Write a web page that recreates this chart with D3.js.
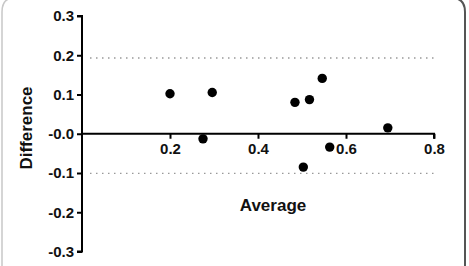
<!DOCTYPE html>
<html><head><meta charset="utf-8">
<script src="https://cdn.jsdelivr.net/npm/d3@7"></script>
<style>html,body{margin:0;padding:0;background:#fff;}svg{display:block;}</style>
</head><body>
<svg id="c" width="469" height="266"></svg>
<script>
const avg = [0.200, 0.296, 0.275, 0.484, 0.517, 0.503, 0.546, 0.563, 0.695];
const diff = [0.102, 0.105, -0.013, 0.080, 0.087, -0.085, 0.141, -0.034, 0.015];
const limits = [0.193, -0.101];
const xTicks = [0.2, 0.4, 0.6, 0.8];
const yTicks = [0.3, 0.2, 0.1, 0.0, -0.1, -0.2, -0.3];
const yTickLabels = ["0.3", "0.2", "0.1", "-0.0", "-0.1", "-0.2", "-0.3"];

const svg = d3.select("#c");
const x = d3.scaleLinear().domain([0, 0.8]).range([82, 434]);
const y = d3.scaleLinear().domain([-0.3, 0.3]).range([251.5, 16]);

// frame
svg.append("path").attr("d", "M2,266 L2,12 Q2,-2 14,-2").attr("fill","none").attr("stroke","#c8c8c8").attr("stroke-width",1.5);
svg.append("path").attr("d", "M452,-2 Q465,-2 465,12 L465,266").attr("fill","none").attr("stroke","#555").attr("stroke-width",2);

// limit lines
svg.selectAll(".lim").data(limits).enter().append("line")
  .attr("x1", 90).attr("x2", x(0.8)).attr("y1", d=>y(d)).attr("y2", d=>y(d))
  .attr("stroke","#999").attr("stroke-width",1.3).attr("stroke-dasharray","1.5,4.5");

const font = "'Liberation Sans', Arial, sans-serif";

// y axis
const yAxis = d3.axisLeft(y).tickValues(yTicks).tickSize(5).tickPadding(3)
  .tickFormat((d,i)=>yTickLabels[i]);
const gy = svg.append("g").attr("transform", `translate(${x(0)},0)`).call(yAxis);
gy.select(".domain").attr("d", `M-5,${y(0.3)}H0V${y(-0.3)}H-5`).attr("stroke","#000").attr("stroke-width",2).attr("fill","none");
gy.selectAll(".tick line").attr("stroke","#000").attr("stroke-width",2);
gy.selectAll(".tick text").attr("font-family",font).attr("font-weight","bold").attr("font-size",15).attr("fill","#111");

// x axis
const xAxis = d3.axisBottom(x).tickValues(xTicks).tickSize(5).tickPadding(5).tickFormat(d3.format(".1f"));
const gx = svg.append("g").attr("transform", `translate(0,${y(0)})`).call(xAxis);
gx.select(".domain").attr("d", `M${x(0)},0H${x(0.8)}V5`).attr("stroke","#000").attr("stroke-width",2).attr("fill","none");
gx.selectAll(".tick line").attr("stroke","#000").attr("stroke-width",2);
gx.selectAll(".tick text").attr("font-family",font).attr("font-weight","bold").attr("font-size",15).attr("fill","#111");

// points
svg.selectAll(".pt").data(avg).enter().append("circle")
  .attr("cx", d=>x(d)).attr("cy", (d,i)=>y(diff[i])).attr("r", 4.7).attr("fill","#000");

// labels
svg.append("text").attr("x", 273).attr("y", 211).attr("text-anchor","middle")
  .attr("font-family",font).attr("font-weight","bold").attr("font-size",17).attr("fill","#111").text("Average");
svg.append("text").attr("transform","translate(32,128) rotate(-90)").attr("text-anchor","middle")
  .attr("font-family",font).attr("font-weight","bold").attr("font-size",17).attr("fill","#111").text("Difference");
</script>
</body></html>
